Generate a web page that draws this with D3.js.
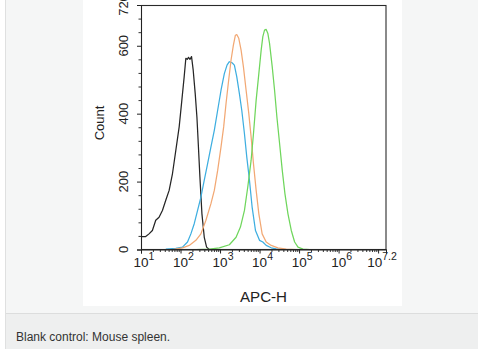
<!DOCTYPE html>
<html>
<head>
<meta charset="utf-8">
<script src="https://cdn.jsdelivr.net/npm/d3@7"></script>
<style>
  html, body { margin: 0; padding: 0; background: #ffffff; }
  svg { display: block; font-family: "Liberation Sans", Arial, sans-serif; }
</style>
</head>
<body>
<svg id="chart" width="478" height="349"></svg>
<script>
// ---- Data (x in log10 of APC-H intensity, y = Count) ----
const blackLog = [1.008,1.119,1.203,1.288,1.373,1.457,1.542,1.627,1.712,1.796,1.881,1.966,2.034,2.093,2.135,2.170,2.203,2.240,2.279,2.321,2.372,2.415,2.449,2.491,2.542,2.601,2.660,2.728];
const blackCount = [38,38,46,56,86,95,115,145,174,223,292,361,440,509,563,560,566,560,568,528,459,390,312,213,105,36,7,0];

const blueLog = [1.627,1.881,2.050,2.177,2.262,2.347,2.432,2.516,2.601,2.686,2.770,2.855,2.940,3.025,3.109,3.177,3.236,3.304,3.363,3.423,3.490,3.550,3.618,3.677,3.745,3.812,3.897,3.999,4.083,4.168,4.295,4.422,4.592];
const blueCount = [1,3,7,22,46,76,115,154,204,253,302,351,410,469,518,543,553,550,543,509,459,410,341,272,204,125,56,27,22,12,5,2,0];

const orangeLog = [1.796,2.050,2.220,2.389,2.516,2.643,2.770,2.855,2.940,3.025,3.092,3.152,3.219,3.279,3.338,3.389,3.423,3.474,3.533,3.592,3.660,3.728,3.787,3.846,3.914,3.982,4.066,4.168,4.295,4.465,4.676,4.931];
const orangeCount = [0,5,12,27,46,86,135,174,233,302,361,430,499,558,602,631,633,622,587,538,469,400,331,253,174,105,46,22,12,5,1,0];

const greenLog = [2.389,2.728,2.982,3.236,3.406,3.516,3.618,3.702,3.787,3.846,3.914,3.982,4.041,4.083,4.126,4.168,4.211,4.253,4.321,4.380,4.439,4.507,4.575,4.643,4.719,4.803,4.888,4.973,5.100,5.269];
const greenCount = [0,1,5,14,36,66,115,184,263,341,440,518,587,627,646,648,636,607,538,469,390,312,233,164,105,56,22,7,1,0];

const seriesNames = ["Blank control", "Isotype", "Antibody A", "Antibody B"];
const xTickExponents = ["1","2","3","4","5","6","7.2"];
const yTickValues = [0, 200, 400, 600, 720];
const xLabel = "APC-H";
const yLabel = "Count";
const caption = "Blank control: Mouse spleen.";

// ---- Layout ----
const svg = d3.select("#chart");
const W = 478, H = 349;

// page backgrounds
svg.append("rect").attr("x", 0).attr("y", 0).attr("width", W).attr("height", H).attr("fill", "#ffffff");
svg.append("rect").attr("x", 5).attr("y", 0).attr("width", W - 5).attr("height", 313).attr("fill", "#f5f6f6");
svg.append("line").attr("x1", 5.5).attr("x2", 5.5).attr("y1", 0).attr("y2", H).attr("stroke", "#dfe0e0");
svg.append("rect").attr("x", 6).attr("y", 313).attr("width", W - 6).attr("height", H - 313).attr("fill", "#eeefef");
svg.append("line").attr("x1", 6).attr("x2", W).attr("y1", 313.5).attr("y2", 313.5).attr("stroke", "#dcdddd");
svg.append("rect").attr("x", 83).attr("y", 0).attr("width", 319).attr("height", 306).attr("fill", "#ffffff");

svg.append("text").attr("x", 16).attr("y", 340.5).attr("font-size", 12).attr("fill", "#333")
  .text(caption);

// ---- Scales ----
const x0 = 141, x1 = 386, yTop = 5, yBot = 249.5;
const x = d3.scaleLog().domain([10, Math.pow(10, 7.2)]).range([x0, x1]);
const y = d3.scaleLinear().domain([0, 720]).range([yBot, yTop]);

const g = svg.append("g");

// clip
svg.append("clipPath").attr("id", "clip").append("rect")
  .attr("x", x0).attr("y", yTop).attr("width", x1 - x0).attr("height", yBot - yTop);

// ---- Curves ----
const line = d3.line().x(d => x(Math.pow(10, d[0]))).y(d => y(d[1]));
const series = [
  { log: blackLog, count: blackCount, color: "#262626" },
  { log: blueLog, count: blueCount, color: "#3eaee0" },
  { log: orangeLog, count: orangeCount, color: "#f2a874" },
  { log: greenLog, count: greenCount, color: "#6fd65c" }
];
const curves = g.append("g").attr("clip-path", "url(#clip)");
series.forEach(s => {
  const pts = s.log.map((v, i) => [v, s.count[i]]);
  curves.append("path").datum(pts).attr("d", line)
    .attr("fill", "none").attr("stroke", s.color).attr("stroke-width", 1.25)
    .attr("stroke-linejoin", "round");
});

// ---- Frame ----
g.append("rect").attr("x", x0 + 0.5).attr("y", yTop + 0.5)
  .attr("width", x1 - x0 - 0.5).attr("height", yBot - yTop - 0.5)
  .attr("fill", "none").attr("stroke", "#2a2a2a").attr("stroke-width", 1.1);

// ---- X axis ticks ----
const majorX = d3.range(1, 8).map(e => Math.pow(10, e)).concat([Math.pow(10, 7.2)]);
const minorX = [];
for (let e = 1; e < 7.2; e++) {
  for (let k = 2; k <= 9; k++) {
    const v = k * Math.pow(10, e);
    if (v < Math.pow(10, 7.2)) minorX.push(v);
  }
}
const xAxisMajor = d3.axisBottom(x).tickValues(majorX).tickSize(4).tickFormat("");
const xAxisMinor = d3.axisBottom(x).tickValues(minorX).tickSize(2.5).tickFormat("");
g.append("g").attr("transform", `translate(0,${yBot})`).call(xAxisMinor)
  .call(a => a.select(".domain").remove())
  .selectAll("line").attr("stroke", "#333");
g.append("g").attr("transform", `translate(0,${yBot})`).call(xAxisMajor)
  .call(a => a.select(".domain").attr("stroke", "#222"))
  .selectAll("line").attr("stroke", "#222");

// X tick labels 10^n
const xl = g.append("g");
xTickExponents.forEach(ex => {
  let px = x(Math.pow(10, +ex));
  px = Math.min(px, 379);
  const t = xl.append("text").attr("x", px + 3).attr("y", 267)
    .attr("text-anchor", "middle").attr("font-size", 13.5).attr("fill", "#222");
  t.append("tspan").text("10");
  t.append("tspan").attr("dy", -7).attr("font-size", 10.5).text(ex);
});

g.append("text").attr("transform", "translate(263.5,302) scale(1.08,1)").attr("text-anchor", "middle")
  .attr("font-size", 14).attr("fill", "#222").text(xLabel);

// ---- Y axis ticks ----
const minorY = d3.range(40, 720, 40).filter(v => v % 200 !== 0);
const yAxisMajor = d3.axisLeft(y).tickValues(yTickValues).tickSize(4).tickFormat("");
const yAxisMinor = d3.axisLeft(y).tickValues(minorY).tickSize(2.5).tickFormat("");
g.append("g").attr("transform", `translate(${x0},0)`).call(yAxisMinor)
  .call(a => a.select(".domain").remove())
  .selectAll("line").attr("stroke", "#333");
g.append("g").attr("transform", `translate(${x0},0)`).call(yAxisMajor)
  .call(a => a.select(".domain").attr("stroke", "#222"))
  .selectAll("line").attr("stroke", "#222");

// Y tick labels (rotated)
yTickValues.forEach(v => {
  g.append("text").attr("transform", `translate(128,${y(v)}) rotate(-90)`)
    .attr("text-anchor", "middle").attr("font-size", 13).attr("fill", "#222").text(v);
});

g.append("text").attr("transform", `translate(103.5,123) rotate(-90)`)
  .attr("text-anchor", "middle").attr("font-size", 13).attr("fill", "#222").text(yLabel);
</script>
</body>
</html>
